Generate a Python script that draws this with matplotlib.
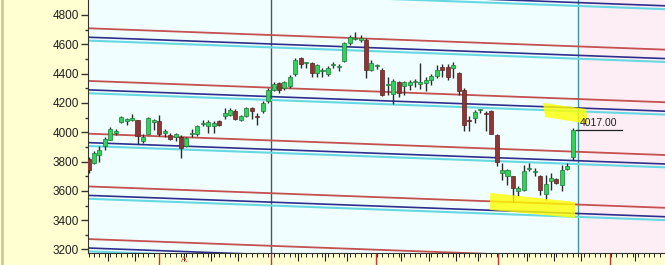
import numpy as np
import matplotlib.pyplot as plt
from matplotlib.patches import Polygon

plt.rcParams['font.family'] = ['Liberation Sans', 'DejaVu Sans']

# daily candles, index 0..89
opens = [3815, 3792, 3845, 3905, 3950, 3998, 4070, 4075, 4086, 4080,
         3940, 3990, 4068, 4075, 3998, 3980, 3970, 3967, 3905, 3985,
         3985, 4056, 4040, 4045, 4075, 4112, 4120, 4143, 4085, 4110,
         4165, 4112, 4145, 4210, 4290, 4335, 4305, 4315, 4395, 4505,
         4474, 4470, 4403, 4416, 4397, 4456, 4446, 4483, 4607, 4636,
         4630, 4630, 4425, 4450, 4425, 4322, 4262, 4345, 4317, 4322,
         4342, 4332, 4335, 4357, 4385, 4448, 4448, 4437, 4405, 4290,
         4085, 4100, 4150, 4132, 4142, 3983, 3725, 3703, 3700, 3597,
         3604, 3750, 3730, 3699, 3581, 3665, 3681, 3642, 3750, 3830]
highs = [3830, 3870, 3905, 3965, 4035, 4025, 4112, 4097, 4125, 4085,
         3985, 4105, 4090, 4120, 4025, 3995, 3995, 3983, 3965, 4020,
         4050, 4085, 4085, 4075, 4085, 4165, 4165, 4155, 4120, 4172,
         4175, 4130, 4210, 4300, 4340, 4345, 4350, 4390, 4505, 4510,
         4482, 4478, 4465, 4440, 4450, 4482, 4465, 4618, 4665, 4687,
         4665, 4640, 4490, 4465, 4435, 4380, 4362, 4352, 4352, 4357,
         4362, 4475, 4380, 4398, 4460, 4466, 4466, 4480, 4410, 4300,
         4108, 4153, 4160, 4142, 4150, 3988, 3790, 3750, 3700, 3632,
         3778, 3790, 3755, 3710, 3710, 3722, 3688, 3778, 3790, 4030]
lows = [3720, 3780, 3800, 3880, 3945, 3980, 4062, 4052, 4075, 3920,
        3927, 3985, 4015, 3975, 3970, 3945, 3937, 3826, 3900, 3970,
        3975, 4040, 3995, 3995, 4040, 4090, 4110, 4085, 4075, 4105,
        4090, 4050, 4130, 4200, 4280, 4265, 4290, 4300, 4385, 4437,
        4440, 4380, 4380, 4380, 4385, 4440, 4420, 4478, 4595, 4630,
        4615, 4370, 4420, 4430, 4250, 4255, 4195, 4243, 4255, 4290,
        4310, 4295, 4278, 4323, 4370, 4380, 4357, 4370, 4255, 4005,
        4010, 4062, 4130, 4005, 3985, 3770, 3676, 3642, 3522, 3563,
        3597, 3733, 3699, 3574, 3540, 3608, 3645, 3597, 3740, 3810]
closes = [3740, 3860, 3880, 3955, 4020, 4008, 4105, 4088, 4094, 3975,
          3965, 4095, 4080, 3985, 4010, 3952, 3985, 3895, 3960, 3995,
          4045, 4064, 4068, 4065, 4050, 4130, 4153, 4090, 4108, 4165,
          4142, 4106, 4200, 4290, 4330, 4290, 4340, 4380, 4495, 4465,
          4480, 4403, 4460, 4422, 4440, 4462, 4452, 4607, 4650, 4643,
          4645, 4425, 4475, 4456, 4255, 4328, 4352, 4267, 4340, 4345,
          4348, 4338, 4357, 4385, 4426, 4426, 4376, 4460, 4278, 4050,
          4078, 4140, 4156, 4126, 3988, 3795, 3740, 3740, 3620, 3620,
          3733, 3756, 3736, 3608, 3649, 3688, 3654, 3745, 3767, 4017]

# channel lines: red level at index 0, blue/cyan offsets, slope per bar
channel_red = [5069, 4709, 4350, 3990, 3630, 3271]
blue_offset = -61
cyan_offset = -84
channel_slope = -1.374

month_ticks = [12.86, 33.5, 52.8, 75.3, 95.8]
week_ticks = [3.5, 8.5, 17.5, 22.5, 27.5, 38.5, 43.5, 47.5, 57.5, 62.5, 67.5,
              71.5, 80.5, 85.5, 90.5, 100.5]
last_price = 4017.00

hl_upper = [(83.54, 4200), (91.44, 4159), (91.81, 4056), (83.9, 4104)]
hl_lower = [(73.8, 3586), (89.42, 3524), (89.42, 3415), (73.8, 3470)]

fig = plt.figure(figsize=(6.65, 2.65), dpi=100, facecolor='#FFFFD2')
ax = fig.add_axes([88 / 665, 12 / 265, 1 - 88 / 665, 1 - 12 / 265])
ax.set_facecolor('#F0FEFF')
x_lo, x_hi = -0.1, 105.95
ax.set_xlim(x_lo, x_hi)
ax.set_ylim(3176, 4902)

# future area
ax.axvspan(89.9, x_hi, color='#FDEEF6', zorder=0, lw=0)
ax.axvline(33.57, color='#555555', lw=1, zorder=1)
ax.axvline(89.9, color='#3A9A9A', lw=1, zorder=1)

xs = np.array([x_lo, x_hi])
for base in channel_red:
    ax.plot(xs, base + channel_slope * xs, color='#C45050', lw=1.3, zorder=2)
    ax.plot(xs, base + blue_offset + channel_slope * xs, color='#2E2E8C', lw=1.2, zorder=2)
    ax.plot(xs, base + cyan_offset + channel_slope * xs, color='#66D8E2', lw=1.5, zorder=2)

# candles
idx = np.arange(len(opens))
o = np.array(opens)
c = np.array(closes)
up = c >= o
ax.vlines(idx, lows, highs, color='#2A2A2A', lw=1.0, zorder=3)
body_lo = np.minimum(o, c)
body_h = np.maximum(np.abs(c - o), 8)
ax.bar(idx[up], body_h[up], bottom=body_lo[up], width=0.74,
       color='#2FD35A', edgecolor='#1E7A38', lw=0.5, zorder=4)
ax.bar(idx[~up], body_h[~up], bottom=body_lo[~up], width=0.74,
       color='#8E3636', edgecolor='#5E2020', lw=0.5, zorder=4)

for pts in (hl_upper, hl_lower):
    ax.add_patch(Polygon(pts, closed=True, facecolor='#FFFF00', alpha=0.8,
                         edgecolor='none', zorder=5))

# last price marker
ax.plot([89.6, 98.1], [last_price, last_price], color='#202020', lw=0.9, zorder=6)
ax.text(90.3, last_price + 12, f'{last_price:.2f}', fontsize=7.5,
        color='#202020', va='bottom', ha='left', zorder=6)

# axes styling
for side in ('top', 'right'):
    ax.spines[side].set_visible(False)
ax.spines['left'].set_color('#333333')
ax.spines['bottom'].set_color('#333333')
ax.set_yticks(np.arange(3200, 4801, 200))
ax.set_yticks(np.arange(3300, 4801, 200), minor=True)
ax.tick_params(axis='y', which='major', length=5, width=1, color='#333333',
               labelsize=8.5, labelcolor='#202020', pad=1.5)
ax.tick_params(axis='y', which='minor', length=2.5, width=1, color='#333333')

ax.set_xticks(week_ticks)
ax.set_xticks(np.arange(0, 106), minor=True)
ax.set_xticklabels([])
ax.tick_params(axis='x', which='major', length=5.5, width=0.8, color='#222222')
ax.tick_params(axis='x', which='minor', length=2.8, width=0.7, color='#222222')
ax.vlines(month_ticks, -0.055, 0, transform=ax.get_xaxis_transform(),
          color='#CC3030', lw=1, clip_on=False)

ax.text(17.6, -0.027, 'A', transform=ax.get_xaxis_transform(), color='#E04A20',
        fontsize=6.5, ha='center', va='center', clip_on=False)

# left border strip
fig.add_artist(plt.Line2D([1.5 / 665, 1.5 / 665], [0, 1], color='#C9C9A8', lw=2))

fig.savefig('out.png', dpi=100, facecolor=fig.get_facecolor())
